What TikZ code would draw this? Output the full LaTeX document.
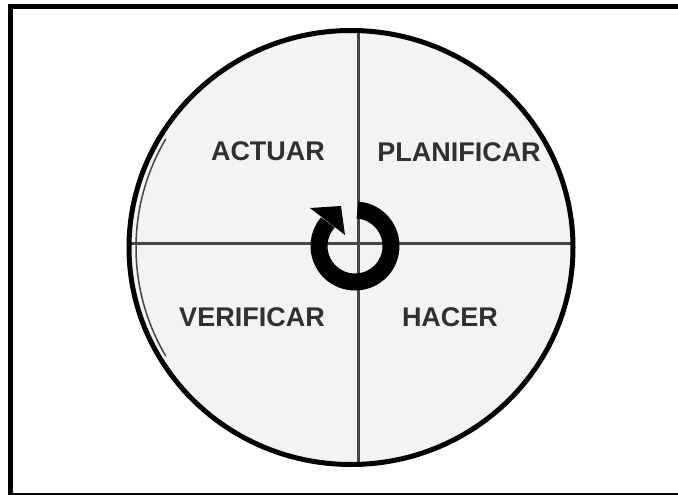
\documentclass[tikz,border=0pt]{standalone}
\usepackage{fontspec}
\setmainfont{Liberation Sans}
\definecolor{disc}{HTML}{F3F3F3}
\definecolor{crossc}{HTML}{454545}
\definecolor{labelc}{HTML}{303030}
\begin{document}
\begin{tikzpicture}[x=1pt,y=-1pt,
  lbl/.style={font=\fontsize{27}{27}\selectfont\bfseries, text=labelc, inner sep=0pt},
  frameline/.style={draw=black, line width=5pt},
  crossline/.style={draw=crossc, line width=3pt}]
\useasboundingbox (0,0) rectangle (678,495);
\fill[white] (0,0) rectangle (678,495);
% frame
\draw[frameline] (10.5,497) -- (10.5,6.5) -- (680,6.5);
\draw[draw=black, line width=2pt] (10.5,494) -- (680,494);
% disc
\fill[disc] (351,247.5) ellipse [x radius=222, y radius=217];
\begin{scope}
  \clip (351,247.5) ellipse [x radius=222, y radius=217];
  \draw[crossline] (358,20) -- (358,480);
  \draw[crossline] (120,243) -- (590,243);
  \draw[draw=gray!55!black, line width=1.5pt] (358,247.5) ++(150:222 and 217) arc[start angle=150, end angle=210, x radius=222, y radius=217];
\end{scope}
\draw[black, line width=5pt] (351,247.5) ellipse [x radius=222, y radius=217];
% cycle arrow
\coordinate (rc) at (355,246);
\draw[black, line width=17pt] (rc) ++(-86:36) arc[start angle=-86, end angle=221, radius=36];
\fill[black] (341,206) -- (310,208) -- (345,235) -- cycle;
% labels
\node[lbl] (actuar) at (268,151) {ACTUAR};
\node[lbl] (planificar) at (459,152) {PLANIFICAR};
\node[lbl] (verificar) at (252,317) {VERIFICAR};
\node[lbl] (hacer) at (450,317) {HACER};
\end{tikzpicture}
\end{document}
